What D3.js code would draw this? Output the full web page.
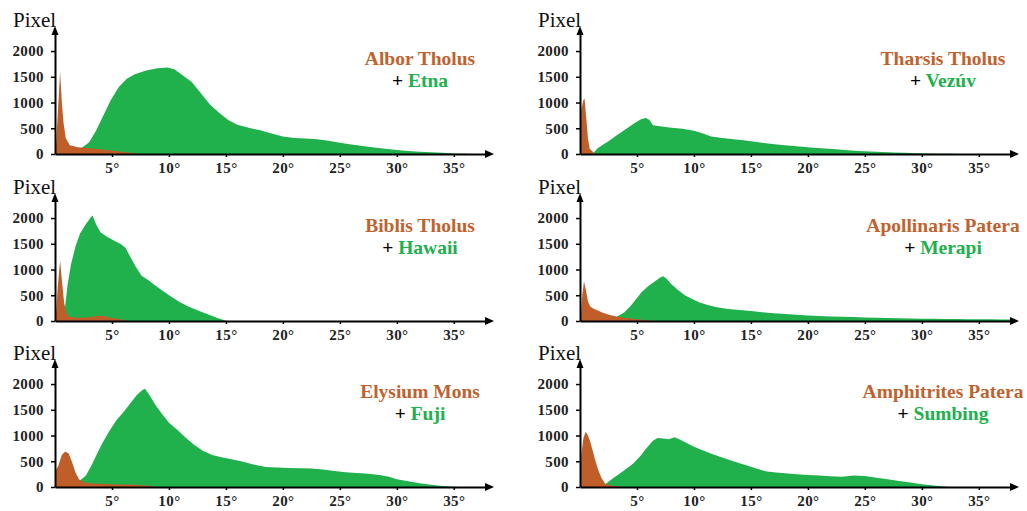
<!DOCTYPE html>
<html>
<head>
<meta charset="utf-8">
<script src="https://cdn.jsdelivr.net/npm/d3@7"></script>
<style>
body{margin:0;background:#fff;}
svg{display:block;}
</style>
</head>
<body>
<div id="svg"></div>
<script>
// slope histograms: [degree, pixel count]
const albor = [[0.05,0],[0.3,1000],[0.45,1600],[0.6,1000],[0.75,600],[0.95,300],[1.3,170],[2,130],[3,110],[4,90],[5.5,55],[7,15],[7.5,0]];
const etna = [[1.8,0],[2.3,110],[3,230],[3.6,450],[4.2,730],[4.9,1050],[5.6,1300],[6.3,1460],[7,1550],[8,1620],[9,1665],[9.9,1680],[10.5,1640],[11.2,1530],[12,1400],[12.8,1180],[13.6,960],[14.4,800],[15.2,660],[16,570],[17,510],[18,460],[19,400],[20,340],[21,310],[22,300],[23,285],[24,255],[25,220],[26,185],[27,155],[28,125],[29,100],[30,80],[31,60],[32,45],[33,35],[34,22],[35,12],[36,4],[36.6,0]];
const tharsis = [[0.05,0],[0.1,850],[0.3,1050],[0.4,1080],[0.55,700],[0.7,300],[0.85,100],[1.1,50],[1.3,0]];
const vezuv = [[1.1,0],[1.5,100],[1.8,150],[2.5,250],[3.2,360],[4,480],[4.8,600],[5.4,680],[5.8,700],[6.1,660],[6.4,560],[7,540],[8,510],[9,490],[10,450],[10.8,400],[11.5,340],[12.5,310],[13.5,285],[14.5,260],[15.5,235],[16.5,205],[17.5,180],[18.5,160],[19.5,140],[20.5,120],[21.5,105],[22.5,90],[23.5,75],[24.5,60],[25.5,50],[26.5,40],[27.5,30],[28.5,22],[29.5,16],[30.5,10],[31.5,6],[32.5,3],[33,0]];
const biblis = [[0.05,0],[0.25,700],[0.45,1170],[0.6,800],[0.8,360],[1.0,150],[1.3,80],[2,65],[3,75],[3.8,100],[4.3,95],[5,60],[6,25],[6.5,0]];
const hawaii = [[0.7,0],[0.9,300],[1.1,700],[1.4,1100],[1.8,1450],[2.2,1700],[2.7,1880],[3.1,2000],[3.3,2050],[3.6,1880],[4,1720],[4.6,1630],[5.2,1560],[5.8,1490],[6.2,1420],[6.6,1250],[7.1,1050],[7.6,880],[8.2,790],[8.8,690],[9.5,580],[10.2,470],[11,360],[11.8,270],[12.6,200],[13.4,130],[14.2,65],[14.8,20],[15.1,0]];
const apollinaris = [[0.05,0],[0.2,500],[0.35,770],[0.5,620],[0.7,380],[0.9,280],[1.2,240],[1.5,210],[2,160],[2.6,115],[3.2,85],[4,60],[5,35],[6,15],[6.5,0]];
const merapi = [[2.8,0],[3.3,90],[3.9,170],[4.4,280],[4.9,420],[5.4,560],[6,680],[6.5,760],[7,840],[7.3,870],[7.6,820],[8,720],[8.6,600],[9.2,500],[9.8,430],[10.5,360],[11.2,310],[12,265],[13,235],[14,215],[15,195],[16,170],[17,150],[18,135],[19,120],[20,105],[21,95],[22,88],[23,82],[24,76],[25,70],[26,65],[27,60],[28,55],[29,50],[30,46],[31,42],[32,40],[33,38],[34,36],[35,34],[36,32],[37,30],[38,28]];
const elysium = [[0,0],[0.02,300],[0.3,420],[0.6,620],[0.9,690],[1.2,650],[1.5,480],[1.8,280],[2.1,150],[2.5,95],[3,75],[4,65],[5.5,50],[7,45],[8.3,25],[9,0]];
const fuji = [[1.8,0],[2.1,110],[2.7,220],[3.2,420],[3.7,650],[4.2,870],[4.8,1100],[5.4,1300],[6,1450],[6.6,1620],[7.2,1790],[7.7,1890],[7.9,1910],[8.3,1780],[8.8,1600],[9.4,1420],[10,1250],[10.8,1100],[11.5,950],[12.2,820],[13,700],[13.8,620],[14.6,580],[15.5,540],[16.5,490],[17.5,430],[18.5,390],[19.5,380],[20.5,370],[21.5,365],[22.5,360],[23.5,340],[24.5,310],[25.5,285],[26.5,270],[27.5,255],[28.5,235],[29.3,200],[30,150],[31,110],[32,75],[33,45],[34,20],[35,5],[35.5,0]];
const amphitrites = [[0.05,0],[0.1,600],[0.3,950],[0.5,1075],[0.7,1000],[0.9,880],[1.1,720],[1.3,550],[1.6,330],[1.9,170],[2.2,70],[2.6,35],[3.2,15],[3.8,0]];
const sumbing = [[1.9,0],[2.3,70],[2.9,170],[3.5,260],[4.1,360],[4.7,460],[5.3,600],[5.9,770],[6.4,900],[6.8,950],[7.3,940],[7.8,930],[8.3,965],[8.8,920],[9.4,850],[10,780],[10.8,710],[11.6,640],[12.4,580],[13.2,520],[14,460],[14.8,410],[15.6,350],[16.4,300],[17.2,280],[18,265],[19,250],[20,235],[21,225],[22,210],[23,200],[24,225],[25,215],[26,180],[27,150],[28,115],[29,85],[30,55],[31,30],[32,8],[32.5,0]];

const marsNames = ["Albor Tholus","Tharsis Tholus","Biblis Tholus","Apollinaris Patera","Elysium Mons","Amphitrites Patera"];
const earthNames = ["Etna","Vezúv","Hawaii","Merapi","Fuji","Sumbing"];
const marsSeries = [albor,tharsis,biblis,apollinaris,elysium,amphitrites];
const earthSeries = [etna,vezuv,hawaii,merapi,fuji,sumbing];
const xTicks = [5,10,15,20,25,30,35];
const yTicks = [0,500,1000,1500,2000];

const width = 1027;
const height = 511;
const colX = [55,580];
const rowY = [154,321,487];
const plotW = 433;
const plotH = 122;
const brown = "#bf5e29";
const green = "#20b04c";
const serif = "'Liberation Serif','Times New Roman',serif";

const svg = d3.select("#svg").append("svg")
  .attr("width",width).attr("height",height)
  .style("background","#fff");

marsNames.forEach((name,i) => {
  const x0 = colX[i%2];
  const y0 = rowY[Math.floor(i/2)];
  const x = d3.scaleLinear().domain([0,38]).range([x0,x0+plotW]);
  const y = d3.scaleLinear().domain([0,2370]).range([y0,y0-plotH]);
  const g = svg.append("g");

  const area = d3.area().x(d=>x(d[0])).y0(y0).y1(d=>y(d[1]));
  g.append("path").datum(earthSeries[i]).attr("fill",green).attr("d",area);
  g.append("path").datum(marsSeries[i]).attr("fill",brown).attr("d",area);

  const ya = g.append("g").attr("transform",`translate(${x0},0)`)
    .call(d3.axisLeft(y).tickValues(yTicks).tickFormat(d3.format("d"))
      .tickSize(4).tickSizeOuter(0).tickPadding(7));
  const xa = g.append("g").attr("transform",`translate(0,${y0})`)
    .call(d3.axisBottom(x).tickValues(xTicks).tickSize(3).tickSizeOuter(0).tickPadding(5).tickFormat(d=>d+"°"));
  [ya,xa].forEach(a => {
    a.select(".domain").attr("stroke","#000").attr("stroke-width",2);
    a.selectAll("line").attr("stroke","#000").attr("stroke-width",1.5);
    a.selectAll("text").attr("font-family",serif).attr("font-size",15)
      .attr("font-weight","bold").attr("letter-spacing",0.4).attr("fill","#222");
  });

  // arrow heads
  const xe = x(38), yt = y(2370);
  g.append("path").attr("d",`M${xe+6},${y0}L${xe-3},${y0-4}L${xe-3},${y0+4}Z`).attr("fill","#000");
  g.append("path").attr("d",`M${x0},${yt-6}L${x0-3.5},${yt+3}L${x0+3.5},${yt+3}Z`).attr("fill","#000");

  g.append("text").attr("x",x0-42).attr("y",y0-127)
    .attr("font-family",serif).attr("font-size",21)
    .attr("fill","#111").text("Pixel");

  const cx = x0 + (i%2 ? 363 : 365);
  g.append("text").attr("x",cx).attr("y",y0-89).attr("text-anchor","middle")
    .attr("font-family",serif).attr("font-size",19.5).attr("font-weight","bold")
    .attr("fill","#c0622e").text(name);
  const t2 = g.append("text").attr("x",cx).attr("y",y0-67).attr("text-anchor","middle")
    .attr("font-family",serif).attr("font-size",19.5).attr("font-weight","bold");
  t2.append("tspan").attr("fill","#000").text("+ ");
  t2.append("tspan").attr("fill",green).text(earthNames[i]);
});
</script>
</body>
</html>
